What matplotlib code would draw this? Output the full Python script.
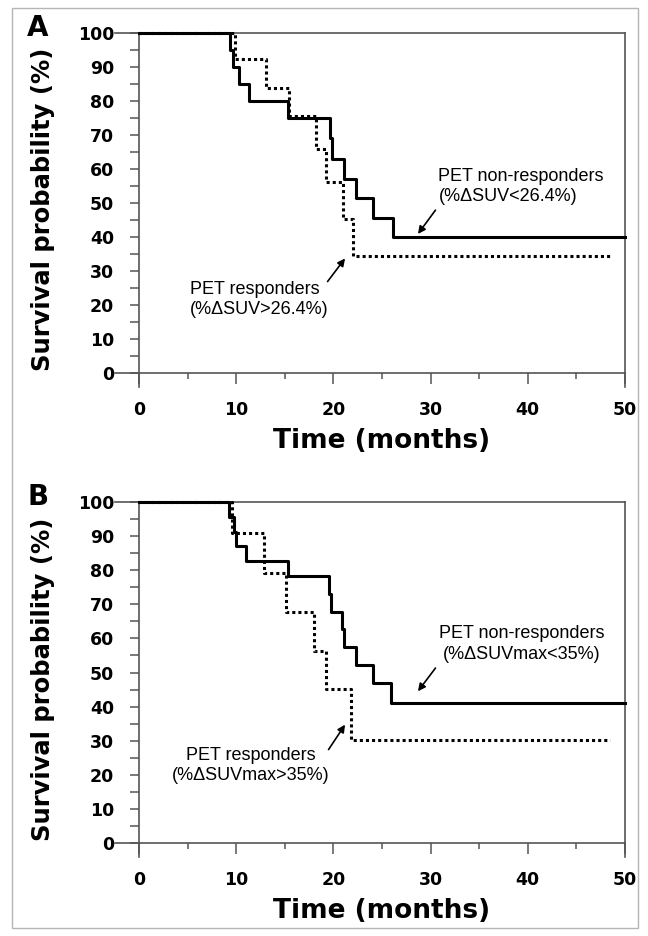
import matplotlib
matplotlib.use("Agg")
import matplotlib.pyplot as plt
from matplotlib.patches import Rectangle

# ---- data ----
a_nonresp_t = [0, 9.4, 9.7, 10.3, 11.3, 15.3, 19.6, 19.9, 21.1, 22.3, 24.1, 26.1, 50]
a_nonresp_s = [100, 95, 90, 85, 80, 75, 69.2, 63.0, 57.2, 51.4, 45.7, 40.0, 40.0]
a_resp_t = [0, 9.9, 13.1, 15.4, 18.2, 19.2, 21.0, 22.0, 48.5]
a_resp_s = [100, 92.3, 83.7, 75.6, 66.0, 56.2, 45.2, 34.3, 34.3]

b_nonresp_t = [0, 9.3, 9.8, 10.0, 11.0, 15.3, 19.5, 19.8, 20.9, 21.1, 22.3, 24.1, 25.9, 50]
b_nonresp_s = [100, 95.7, 91.3, 87.0, 82.6, 78.3, 73.1, 67.8, 62.7, 57.5, 52.3, 46.9, 41.0, 41.0]
b_resp_t = [0, 9.6, 12.9, 15.1, 18.0, 19.2, 21.8, 48.5]
b_resp_s = [100, 90.9, 79.2, 67.8, 56.3, 45.1, 30.2, 30.2]

x_ticks = [0, 10, 20, 30, 40, 50]
y_ticks = [0, 10, 20, 30, 40, 50, 60, 70, 80, 90, 100]
panel_labels = ["A", "B"]
xlabel = "Time (months)"
ylabel = "Survival probability (%)"

a_nonresp_label = "PET non-responders\n(%ΔSUV<26.4%)"
a_resp_label = "PET responders\n(%ΔSUV>26.4%)"
b_nonresp_label = "PET non-responders\n(%ΔSUVmax<35%)"
b_resp_label = "PET responders\n(%ΔSUVmax>35%)"

W, H = 648, 936
fig = plt.figure(figsize=(W / 100, H / 100), dpi=100)

# light frame around whole figure
fig.patches.append(Rectangle((12 / W, 1 - 928 / H), 626 / W, 920 / H,
                             transform=fig.transFigure, fill=False,
                             edgecolor="#b5b5b5", lw=1.0))

BOLD = dict(family="DejaVu Sans", weight="bold")
REG = "Liberation Sans"
SP = "#555555"

def make_axes(top_px, bot_px):
    left, right = 139, 625
    ax = fig.add_axes([left / W, 1 - bot_px / H, (right - left) / W, (bot_px - top_px) / H])
    hpx = bot_px - top_px
    wpx = right - left
    ax.set_xlim(0, 50)
    ax.set_ylim(0, 100)
    ax.set_xticks(x_ticks)
    ax.set_xticks([5, 15, 25, 35, 45], minor=True)
    ax.set_yticks(y_ticks)
    ax.set_yticks([5, 15, 25, 35, 45, 55, 65, 75, 85, 95], minor=True)
    ax.set_xticklabels([str(v) for v in x_ticks], fontsize=12.5, **BOLD)
    ax.set_yticklabels([str(v) for v in y_ticks], fontsize=12.5, **BOLD)
    ax.tick_params(axis="x", which="major", length=7.9, width=1.1, color=SP, pad=12.5)
    ax.tick_params(axis="x", which="minor", length=4.3, width=1.1, color=SP)
    ax.tick_params(axis="y", which="major", length=6.5, width=1.1, color=SP, pad=11.5)
    ax.tick_params(axis="y", which="minor", length=6.5, width=1.1, color=SP)
    for s in ax.spines.values():
        s.set_color(SP)
        s.set_linewidth(1.2)
    # extensions of the frame
    ext_y = 14 / hpx
    ext_x = 24 / wpx
    for xx in (0, 1):
        ax.plot([xx, xx], [0, -ext_y], transform=ax.transAxes, color=SP, lw=1.2, clip_on=False)
    for yy in (0, 1):
        ax.plot([-ext_x, 0], [yy, yy], transform=ax.transAxes, color=SP, lw=1.2, clip_on=False)
    ax.set_xlabel(xlabel, fontsize=19, va="center", **BOLD)
    ax.xaxis.set_label_coords(0.5, -68 / hpx)
    ax.set_ylabel(ylabel, fontsize=17.5, va="center", **BOLD)
    ax.yaxis.set_label_coords(-96 / wpx, 0.48)
    return ax

axA = make_axes(33, 373)
axB = make_axes(502, 843)

for ax, (nt, ns, rt, rs) in zip(
        [axA, axB],
        [(a_nonresp_t, a_nonresp_s, a_resp_t, a_resp_s),
         (b_nonresp_t, b_nonresp_s, b_resp_t, b_resp_s)]):
    ax.step(rt, rs, where="post", color="black", lw=2.2,
            linestyle=(0, (1, 1)), dash_capstyle="butt", clip_on=False, zorder=3)
    ax.step(nt, ns, where="post", color="black", lw=2.2, clip_on=False, zorder=4)

arrow = dict(arrowstyle="-|>", color="black", lw=1.2, mutation_scale=11, shrinkA=0, shrinkB=0)

# Panel A annotations
axA.text(30.8, 54.9, a_nonresp_label, fontsize=13, family=REG, ha="left", va="center",
         linespacing=1.28, multialignment="left")
axA.annotate("", xy=(28.7, 40.9), xytext=(30.5, 47.9), arrowprops=arrow)
axA.text(5.25, 21.6, a_resp_label, fontsize=13, family=REG, ha="left", va="center",
         linespacing=1.28, multialignment="left")
axA.annotate("", xy=(21.2, 33.7), xytext=(19.4, 26.9), arrowprops=arrow)

# Panel B annotations
axB.text(39.4, 58.4, b_nonresp_label, fontsize=13, family=REG, ha="center", va="center",
         linespacing=1.28, multialignment="center")
axB.annotate("", xy=(28.7, 44.5), xytext=(30.5, 51.3), arrowprops=arrow)
axB.text(11.5, 22.7, b_resp_label, fontsize=13, family=REG, ha="center", va="center",
         linespacing=1.28, multialignment="center")
axB.annotate("", xy=(21.2, 34.7), xytext=(19.5, 27.4), arrowprops=arrow)

# Panel letters
fig.text(38 / W, 1 - 28 / H, panel_labels[0], fontsize=20, ha="center", va="center", **BOLD)
fig.text(38 / W, 1 - 497 / H, panel_labels[1], fontsize=20, ha="center", va="center", **BOLD)

fig.savefig("out.png", dpi=100)
